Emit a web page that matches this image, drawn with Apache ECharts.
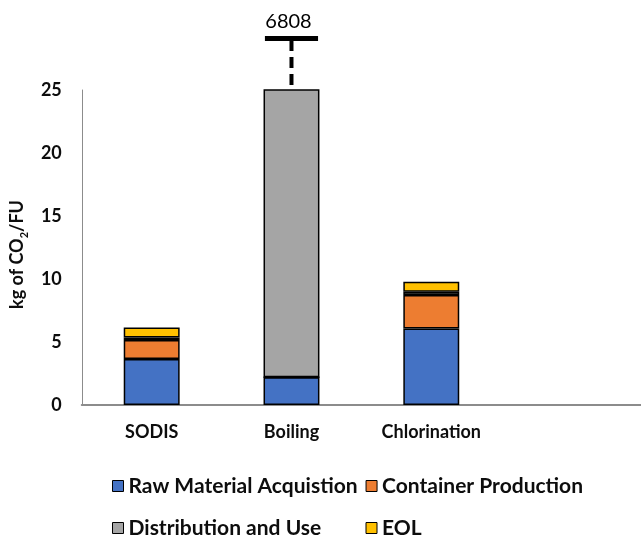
<!DOCTYPE html>
<html>
<head>
<meta charset="utf-8">
<script src="https://cdn.jsdelivr.net/npm/echarts@6/dist/echarts.min.js"></script>
<style>html,body{margin:0;padding:0;background:#fff}#c{width:641px;height:535px}</style>
</head>
<body>
<div id="c"></div>
<script>
var categories = ['SODIS', 'Boiling', 'Chlorination', ''];
var rawMaterial = [3.65, 2.2, 6.08, null];
var containerProd = [1.5, 0, 2.65, null];
var distribution = [0.2, 6805.8, 0.25, null];
var eol = [0.8, 0, 0.8, null];
var boilingTotal = [[1, 6808]];
var yTicks = { min: 0, max: 25, interval: 5 };
var seriesNames = ['Raw Material Acquistion', 'Container Production', 'Distribution and Use', 'EOL'];
var colors = ['#4472C4', '#ED7D31', '#A5A5A5', '#FFC000'];

var FONT = 'Lato';
var chart = echarts.init(document.getElementById('c'), null, { renderer: 'canvas' });

function barSeries(name, data, color) {
  return {
    name: name, type: 'bar', stack: 'total', data: data, barWidth: '40%',
    clip: true,
    itemStyle: { color: color, borderColor: '#000', borderWidth: 1.5 }
  };
}

var option = {
  animation: false,
  textStyle: { fontFamily: FONT },
  grid: { left: 80, right: -9, top: 90, bottom: 130 },
  xAxis: {
    type: 'category', data: categories,
    axisLine: { lineStyle: { color: '#8c8c8c', width: 2 } },
    axisTick: { show: false },
    axisLabel: { color: '#0d0d0d', fontWeight: 'bold', fontSize: 18, fontFamily: FONT, margin: 18 }
  },
  yAxis: {
    type: 'value', min: yTicks.min, max: yTicks.max, interval: yTicks.interval,
    splitLine: { show: false },
    axisLine: { show: true, lineStyle: { color: '#8c8c8c', width: 1 } },
    axisTick: { show: false },
    axisLabel: { color: '#0d0d0d', fontWeight: 'bold', fontSize: 18, fontFamily: FONT, margin: 20 },
    name: '{a|kg of CO}{s|2}{a|/FU}',
    nameLocation: 'middle', nameGap: 50, nameRotate: 90,
    nameTextStyle: {
      padding: [0, 0, 0, -14],
      rich: {
        a: { fontSize: 18, fontWeight: 'bold', color: '#0d0d0d', fontFamily: FONT },
        s: { fontSize: 11, fontWeight: 'bold', color: '#0d0d0d', fontFamily: FONT, verticalAlign: 'bottom', padding: [0, 0, -4, 0] }
      }
    }
  },
  legend: {
    left: 107, top: 464, width: 520,
    itemWidth: 11, itemHeight: 11, itemGap: 8,
    icon: 'rect',
    itemStyle: { borderColor: '#000', borderWidth: 1 },
    textStyle: { fontSize: 21, fontWeight: 'bold', color: '#0d0d0d', fontFamily: FONT, width: 229, lineHeight: 34 },
    data: seriesNames
  },
  series: [
    barSeries(seriesNames[0], rawMaterial, colors[0]),
    barSeries(seriesNames[1], containerProd, colors[1]),
    barSeries(seriesNames[2], distribution, colors[2]),
    barSeries(seriesNames[3], eol, colors[3]),
    {
      type: 'custom', clip: false, silent: true,
      data: boilingTotal,
      renderItem: function (params, api) {
        var top = api.coord([api.value(0), yTicks.max]);
        var w = api.size([1, 0])[0] * 0.38;
        var x = top[0], y = top[1];
        return {
          type: 'group',
          children: [
            { type: 'rect', shape: { x: x - w / 2, y: y - 54, width: w, height: 5 }, style: { fill: '#000' } },
            { type: 'line', shape: { x1: x, y1: y - 50, x2: x, y2: y - 3 }, style: { stroke: '#000', lineWidth: 4, lineDash: [11, 6] } },
            { type: 'text', style: { x: x - 3, y: y - 58, text: String(api.value(1)), fill: '#000', font: '20px ' + FONT, align: 'center', verticalAlign: 'bottom' } }
          ]
        };
      }
    }
  ]
};
chart.setOption(option);
</script>
</body>
</html>
